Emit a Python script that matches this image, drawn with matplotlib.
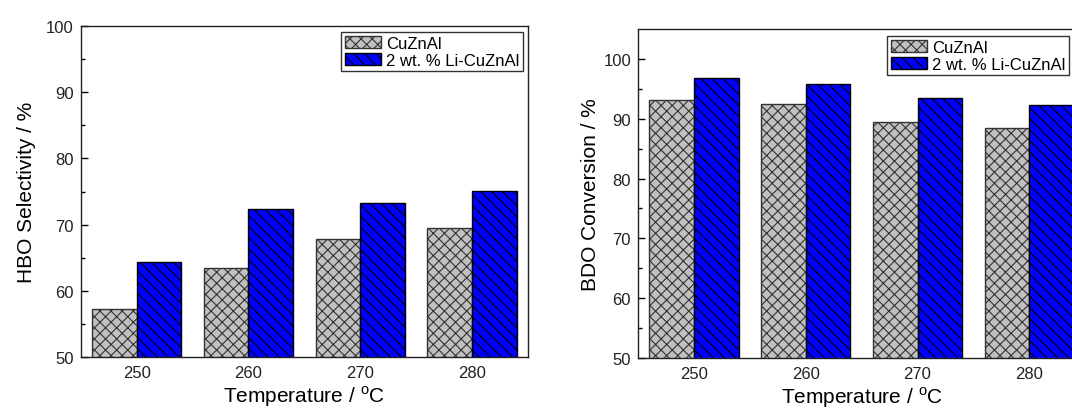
import numpy as np
import matplotlib
matplotlib.use('Agg')
import matplotlib.pyplot as plt

plt.rcParams['font.family'] = ['Liberation Sans', 'DejaVu Sans']
plt.rcParams['mathtext.fontset'] = 'custom'
plt.rcParams['mathtext.rm'] = 'Liberation Sans'
plt.rcParams['hatch.linewidth'] = 0.8

temps = [250, 260, 270, 280]
labels = ['CuZnAl', '2 wt. % Li-CuZnAl']
hbo_cuznal = [57.3, 63.5, 67.8, 69.5]
hbo_li = [64.3, 72.4, 73.2, 75.1]
bdo_cuznal = [93.2, 92.4, 89.5, 88.5]
bdo_li = [96.8, 95.8, 93.5, 92.3]

xlabel = 'Temperature / $^{\\mathrm{o}}$C'


def draw_panel(ax, gray_vals, blue_vals, ylabel, ylim, ylabelpad, leg_anchor):
    x = np.array(temps, dtype=float)
    w = 4
    ax.bar(x - w / 2, gray_vals, width=w, color='#c0c0c0', edgecolor='#333333',
           hatch='xxx', linewidth=1.0, label=labels[0])
    ax.bar(x + w / 2, blue_vals, width=w, color='#0000ff', edgecolor='black',
           hatch='\\\\\\', linewidth=1.0, label=labels[1])
    ax.set_xlim(245, 285)
    ax.set_ylim(*ylim)
    ax.set_xticks(temps)
    ax.set_yticks(np.arange(50, 101, 10))
    ax.set_yticks(np.arange(55, 101, 10), minor=True)
    ax.tick_params(axis='x', length=0, pad=6, labelsize=12, labelcolor='#222222')
    ax.tick_params(axis='y', which='major', direction='in', length=5, width=1,
                   pad=5, labelsize=12, labelcolor='#222222')
    ax.tick_params(axis='y', which='minor', direction='in', length=3, width=1)
    for s in ax.spines.values():
        s.set_linewidth(1.0)
        s.set_color('#222222')
    ax.set_xlabel(xlabel, fontsize=15, labelpad=2)
    ax.set_ylabel(ylabel, fontsize=15, labelpad=ylabelpad)
    leg = ax.legend(loc='upper left', bbox_to_anchor=leg_anchor, borderaxespad=0,
                    fontsize=12, frameon=True, fancybox=False, edgecolor='black',
                    handlelength=2.2, handleheight=0.75, handletextpad=0.3,
                    labelspacing=0.12, borderpad=0.22)
    leg.get_frame().set_linewidth(1.0)


fig = plt.figure(figsize=(10.72, 4.10), dpi=100)
ax1 = fig.add_axes([0.0753, 0.1268, 0.4173, 0.807])
ax2 = fig.add_axes([0.5951, 0.1244, 0.4173, 0.8024])

draw_panel(ax1, hbo_cuznal, hbo_li, 'HBO Selectivity / %', (50, 100), 7,
           (0.582, 0.982))
draw_panel(ax2, bdo_cuznal, bdo_li, 'BDO Conversion / %', (50, 105), 2,
           (0.557, 0.979))

fig.savefig('out.png', dpi=100)
